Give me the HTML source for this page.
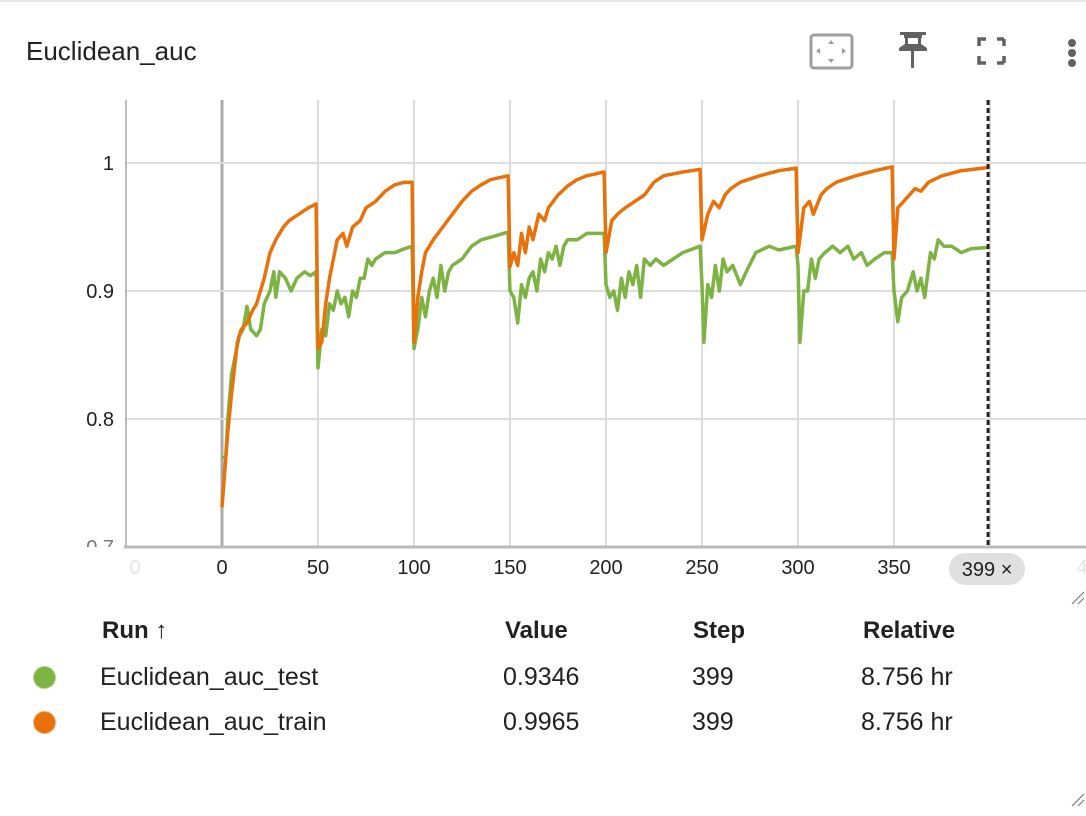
<!DOCTYPE html>
<html><head><meta charset="utf-8"><style>
html,body{margin:0;padding:0;background:#fff;width:1086px;height:816px;overflow:hidden;font-family:"Liberation Sans",sans-serif;}
.abs{position:absolute}
</style></head><body>
<div class="abs" style="left:0;top:0;width:1086px;height:2px;background:#e6e6e6"></div>
<div class="abs" style="left:26px;top:36px;font-size:26px;color:#212121">Euclidean_auc</div>
<svg class="abs" style="left:0;top:0" width="1086" height="816">
 <g>
  <rect x="811" y="35" width="41" height="33" rx="3" fill="none" stroke="#9e9e9e" stroke-width="3"/>
  <path d="M831 40l-3 4h6z M831 63l-3-4h6z M816 51l4-3v6z M846 51l-4-3v6z" fill="#9e9e9e"/>
 </g>
 <g fill="#616161">
  <rect x="900" y="32" width="26" height="3"/><rect x="904" y="34" width="18" height="4"/>
  <path d="M905 38h3v8h-3z M918 38h3v8h-3z M899 48l6-4h16l6 4v3h-28z"/><rect x="911" y="50" width="3" height="18" rx="1"/>
 </g>
 <g fill="none" stroke="#616161" stroke-width="3.5">
  <path d="M979 46v-7h7 M1004 39h-7 M1004 39v7 M979 56v7h7 M1004 63h-7 M1004 63v-7"/>
 </g>
 <g fill="#616161">
  <circle cx="1072" cy="43" r="4"/><circle cx="1072" cy="53" r="4"/><circle cx="1072" cy="63" r="4"/>
 </g>
</svg>
<svg id="chart" class="abs" style="left:0;top:0" width="1086" height="816"></svg>
<div class="abs" style="left:0;top:610px;width:1086px;font-size:25px;color:#212121">
 <div class="abs" style="left:102px;top:7px;font-weight:bold;font-size:24px">Run ↑</div>
 <div class="abs" style="left:505px;top:7px;font-weight:bold;font-size:24px">Value</div>
 <div class="abs" style="left:693px;top:7px;font-weight:bold;font-size:24px">Step</div>
 <div class="abs" style="left:863px;top:7px;font-weight:bold;font-size:24px">Relative</div>
 <div class="abs" style="left:34px;top:57px;width:21px;height:21px;border-radius:50%;background:#7cb342;box-shadow:0 0 0 1px #b5d68f"></div>
 <div class="abs" style="left:100px;top:53px">Euclidean_auc_test</div>
 <div class="abs" style="left:503px;top:53px">0.9346</div>
 <div class="abs" style="left:692px;top:53px">399</div>
 <div class="abs" style="left:861px;top:53px">8.756 hr</div>
 <div class="abs" style="left:34px;top:102px;width:21px;height:21px;border-radius:50%;background:#e8710a;box-shadow:0 0 0 1px #f3ad72"></div>
 <div class="abs" style="left:100px;top:98px">Euclidean_auc_train</div>
 <div class="abs" style="left:503px;top:98px">0.9965</div>
 <div class="abs" style="left:692px;top:98px">399</div>
 <div class="abs" style="left:861px;top:98px">8.756 hr</div>
</div>
<svg class="abs" style="left:0;top:0" width="1086" height="816">
 <path d="M1072 604l12-12 M1078 604l6-6 M1072 806l12-12 M1078 806l6-6" stroke="#777" stroke-width="1.2"/>
</svg>
<script>
const xTicks=[-50,0,50,100,150,200,250,300,350,400,450];
const yTicks=[0.7,0.8,0.9,1];
const trainSteps=[0,3,5,8,10,13,16,18,20,22,25,28,32,35,40,45,49,50,52,54,56,58,60,63,65,68,72,75,80,85,90,95,99,100,102,104,106,110,115,120,125,130,135,140,149,150,152,154,156,158,160,162,165,168,170,175,180,185,190,199,200,203,206,210,215,220,225,230,240,249,250,253,256,259,262,265,270,280,290,299,300,303,306,308,312,315,320,330,340,349,350,352,355,358,361,364,368,375,385,399];
const trainVals=[0.731,0.79,0.82,0.86,0.87,0.875,0.885,0.89,0.9,0.91,0.93,0.94,0.95,0.955,0.96,0.965,0.968,0.855,0.86,0.89,0.91,0.925,0.94,0.945,0.935,0.95,0.955,0.965,0.97,0.978,0.983,0.985,0.985,0.86,0.895,0.915,0.93,0.94,0.95,0.96,0.97,0.978,0.983,0.987,0.99,0.919,0.93,0.92,0.945,0.93,0.95,0.94,0.96,0.955,0.965,0.975,0.982,0.987,0.99,0.993,0.93,0.955,0.96,0.965,0.97,0.975,0.985,0.99,0.993,0.995,0.94,0.96,0.97,0.965,0.975,0.98,0.985,0.99,0.994,0.996,0.93,0.965,0.97,0.96,0.975,0.98,0.985,0.99,0.994,0.997,0.925,0.965,0.97,0.975,0.98,0.978,0.985,0.99,0.994,0.9965];
const testSteps=[0,2,3,5,7,9,11,13,15,18,20,22,25,27,28,30,33,36,39,43,46,49,50,52,54,56,58,60,62,64,66,68,70,72,74,76,78,80,85,90,95,99,100,102,104,106,108,110,112,114,116,118,120,125,130,135,140,149,150,152,154,156,158,160,162,164,166,168,170,172,174,176,178,180,185,190,199,200,202,204,206,208,210,212,214,216,218,220,223,226,230,235,240,249,250,251,253,255,257,259,261,263,266,270,273,278,285,290,299,300,301,303,305,307,309,311,314,318,322,326,329,333,336,340,345,349,350,352,354,357,360,362,364,366,369,371,373,376,380,385,390,399];
const testVals=[0.77,0.77,0.8,0.835,0.85,0.865,0.87,0.888,0.87,0.865,0.87,0.89,0.9,0.915,0.895,0.915,0.91,0.9,0.91,0.915,0.912,0.915,0.84,0.87,0.865,0.89,0.885,0.9,0.89,0.895,0.88,0.9,0.895,0.91,0.91,0.925,0.92,0.925,0.93,0.93,0.933,0.935,0.855,0.87,0.895,0.88,0.9,0.91,0.895,0.92,0.9,0.915,0.92,0.925,0.935,0.94,0.942,0.946,0.9,0.895,0.875,0.905,0.895,0.91,0.915,0.9,0.925,0.915,0.93,0.925,0.935,0.92,0.935,0.94,0.94,0.945,0.945,0.905,0.895,0.9,0.885,0.91,0.895,0.915,0.905,0.92,0.895,0.925,0.92,0.925,0.92,0.925,0.93,0.935,0.905,0.86,0.905,0.895,0.92,0.9,0.925,0.915,0.92,0.905,0.915,0.93,0.935,0.932,0.935,0.92,0.86,0.9,0.9,0.925,0.91,0.925,0.93,0.935,0.93,0.935,0.925,0.93,0.92,0.925,0.93,0.93,0.9,0.876,0.895,0.9,0.915,0.9,0.91,0.895,0.93,0.925,0.94,0.935,0.935,0.93,0.933,0.934];
const cursorStep=399;

const NS="http://www.w3.org/2000/svg";
const svg=document.getElementById('chart');
const X0=126,X1=1086,Y0=100,Y1=547;
const xs=v=>X0+(v+50)/500*(X1-X0);
const ys=v=>163+(1-v)*1280;
function mk(tag,attrs){const e=document.createElementNS(NS,tag);for(const k in attrs)e.setAttribute(k,attrs[k]);svg.appendChild(e);return e;}
const defs=document.createElementNS(NS,'defs');svg.appendChild(defs);
const clip=document.createElementNS(NS,'clipPath');clip.setAttribute('id','pc');
const cr=document.createElementNS(NS,'rect');cr.setAttribute('x',X0);cr.setAttribute('y',Y0);cr.setAttribute('width',X1-X0);cr.setAttribute('height',Y1-Y0);
clip.appendChild(cr);defs.appendChild(clip);
const clip2=document.createElementNS(NS,'clipPath');clip2.setAttribute('id','lc');
const cr2=document.createElementNS(NS,'rect');cr2.setAttribute('x',0);cr2.setAttribute('y',Y0);cr2.setAttribute('width',X0);cr2.setAttribute('height',Y1-Y0);
clip2.appendChild(cr2);defs.appendChild(clip2);
xTicks.forEach(t=>{
  const x=xs(t);
  if(t>-50&&t<450){const l=mk('line',{x1:x,x2:x,y1:Y0,y2:Y1,stroke:t===0?'#aaa':'#ddd','stroke-width':t===0?3:2});
  
  }
  const faded=(t===-50||t===450);
  const tx=mk('text',{x:x,y:574,'text-anchor':'middle','font-size':20,fill:faded?'#e4e4e4':'#212121','font-family':'Liberation Sans, sans-serif'});
  tx.textContent=faded?(t===-50?'0':'4'):t;
  
  
  if(t===450)tx.setAttribute('x',1082);
  if(t===-50)tx.setAttribute('x',135);
});
yTicks.forEach(t=>{
  const y=ys(t);
  const l=mk('line',{x1:X0,x2:X1,y1:y,y2:y,stroke:'#ddd','stroke-width':2});
  
  
  const tx=mk('text',{x:114,y:y+7,'text-anchor':'end','font-size':20,fill:'#212121','font-family':'Liberation Sans, sans-serif'});
  tx.textContent=String(t);
  
  
  if(t===0.7){tx.setAttribute('clip-path','url(#lc)');tx.setAttribute('fill','#777');}
});
const ya=mk('line',{x1:X0,x2:X0,y1:Y0,y2:Y1,stroke:'#bbb','stroke-width':2});


const xa=mk('line',{x1:X0-2,x2:X1,y1:Y1,y2:Y1,stroke:'#bbb','stroke-width':3});


function series(steps,vals,color,name){
  const d=steps.map((s,i)=>(i?'L':'M')+xs(s).toFixed(1)+' '+ys(vals[i]).toFixed(1)).join(' ');
  const p=mk('path',{d:d,fill:'none',stroke:color,'stroke-width':3.5,'stroke-linejoin':'round','clip-path':'url(#pc)'});
  
  
}
series(testSteps,testVals,'#7cb342','series-test-line');
series(trainSteps,trainVals,'#e8710a','series-train-line');
const cx=xs(cursorStep);
const cl=mk('line',{x1:cx,x2:cx,y1:Y0,y2:Y1,stroke:'#222','stroke-width':3,'stroke-dasharray':'5 3'});


const cb=mk('rect',{x:cx-39,y:553,width:76,height:32,rx:16,fill:'#e0e0e0'});


const ct=mk('text',{x:cx-1,y:576,'text-anchor':'middle','font-size':20,fill:'#212121','font-family':'Liberation Sans, sans-serif'});
ct.textContent=cursorStep+' ×';


</script>
</body></html>
